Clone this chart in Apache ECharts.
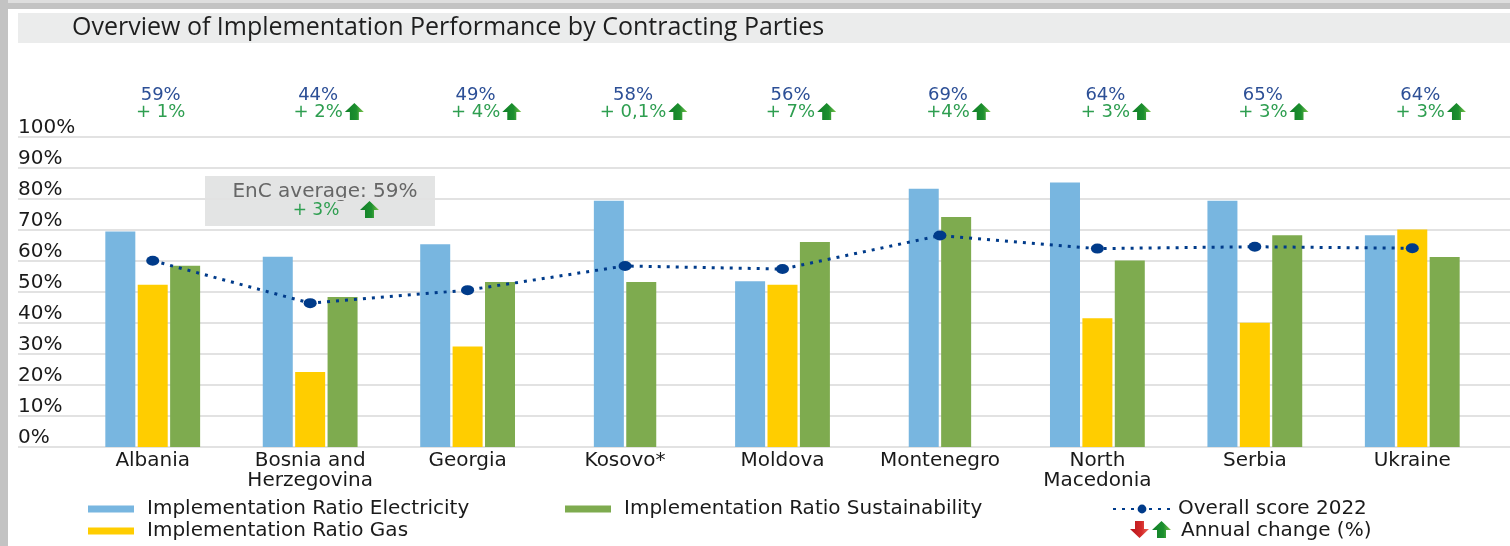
<!DOCTYPE html>
<html>
<head>
<meta charset="utf-8">
<script src="https://cdn.jsdelivr.net/npm/echarts@6/dist/echarts.min.js"></script>
<style>
  html, body { margin: 0; padding: 0; background: #fff; }
  #chart { width: 1510px; height: 546px; }
</style>
</head>
<body>
<div id="chart"></div>
<script>
// data
const categories = ['Albania', 'Bosnia and\nHerzegovina', 'Georgia', 'Kosovo*', 'Moldova', 'Montenegro', 'North\nMacedonia', 'Serbia', 'Ukraine'];
const electricity = [69.5, 61.4, 65.4, 79.4, 53.5, 83.3, 85.3, 79.4, 68.3];
const gas = [52.3, 24.2, 32.4, null, 52.3, null, 41.5, 40.1, 70.2];
const sustainability = [58.5, 48.4, 53.2, 53.2, 66.1, 74.2, 60.2, 68.3, 61.3];
const overall = [60.1, 46.4, 50.6, 58.4, 57.4, 68.2, 64.0, 64.6, 64.1];
const scoreLabels = ['59%', '44%', '49%', '58%', '56%', '69%', '64%', '65%', '64%'];
const changeLabels = ['+ 1%', '+ 2%', '+ 4%', '+ 0,1%', '+ 7%', '+4%', '+ 3%', '+ 3%', '+ 3%'];
const changeTrend = ['', 'up', 'up', 'up', 'up', 'up', 'up', 'up', 'up'];
const yTicks = [0, 10, 20, 30, 40, 50, 60, 70, 80, 90, 100];
const encAverage = 'EnC average: 59%';
const encChange = '+ 3%';

const FONT = 'DejaVu Sans';
const BLUE = '#78b6e0', YELLOW = '#ffcd00', GREEN = '#7eab4f', NAVY = '#003b8a';

// categories without a gas bar get their two bars centred on a second axis
const noGas = gas.map(v => v == null);
const elec3 = electricity.map((v, i) => noGas[i] ? null : v);
const sust3 = sustainability.map((v, i) => noGas[i] ? null : v);
const elec2 = electricity.map((v, i) => noGas[i] ? v : null);
const sust2 = sustainability.map((v, i) => noGas[i] ? v : null);

const measureCtx = document.createElement('canvas').getContext('2d');
function textWidth(s, size) {
    measureCtx.font = size + 'px "' + FONT + '"';
    return measureCtx.measureText(s).width;
}

function arrowGradient(up) {
    return new echarts.graphic.LinearGradient(0, 0, 1, 0, up ? [
        { offset: 0, color: '#0f7d27' },
        { offset: 0.6, color: '#1d902f' },
        { offset: 1, color: '#7cc44b' }
    ] : [
        { offset: 0, color: '#b5141b' },
        { offset: 0.6, color: '#d42a2a' },
        { offset: 1, color: '#ef6a5c' }
    ]);
}
// up arrow, (x, y) = bottom-left corner
function upArrow(x, y) {
    return {
        type: 'polygon',
        shape: { points: [[x + 5, y], [x + 14, y], [x + 14, y - 8], [x + 19, y - 8], [x + 9.5, y - 17], [x, y - 8], [x + 5, y - 8]] },
        style: { fill: arrowGradient(true) }
    };
}
// down arrow, (x, y) = top-left corner
function downArrow(x, y) {
    return {
        type: 'polygon',
        shape: { points: [[x + 5, y], [x + 14, y], [x + 14, y + 8], [x + 19, y + 8], [x + 9.5, y + 17], [x, y + 8], [x + 5, y + 8]] },
        style: { fill: arrowGradient(false) }
    };
}

const myChart = echarts.init(document.getElementById('chart'));

const legendText = { fontFamily: FONT, fontSize: 20, color: '#1a1a1a', padding: [0, 0, 0, 8] };
const barLegend = { icon: 'rect', itemWidth: 46, itemHeight: 7, padding: 0, textStyle: legendText };

const option = {
    animation: false,
    backgroundColor: '#fff',
    grid: [
        { left: 18, right: 0, top: 137, bottom: 99 },   // gridlines + y labels
        { left: 74, right: 19, top: 137, bottom: 99 }   // bars
    ],
    xAxis: [
        { type: 'value', gridIndex: 0, show: false },
        {
            type: 'category', gridIndex: 1, data: categories,
            axisLine: { show: false }, axisTick: { show: false },
            axisLabel: { interval: 0, fontFamily: FONT, fontSize: 20, color: '#1a1a1a', margin: 4, lineHeight: 20 }
        },
        { type: 'category', gridIndex: 1, data: categories, show: false }
    ],
    yAxis: [
        {
            type: 'value', gridIndex: 0, min: 0, max: 100, interval: 10,
            axisLine: { show: false }, axisTick: { show: false },
            axisLabel: {
                inside: true, margin: 0, verticalAlign: 'bottom', lineHeight: 18,
                fontFamily: FONT, fontSize: 20, color: '#1a1a1a',
                formatter: v => yTicks.includes(v) ? v + '%' : ''
            },
            splitLine: { lineStyle: { color: '#e2e2e2', width: 2 } }
        },
        { type: 'value', gridIndex: 1, min: 0, max: 100, show: false }
    ],
    legend: [
        Object.assign({ data: ['Implementation Ratio Electricity'], left: 88, top: 499 }, barLegend),
        Object.assign({ data: ['Implementation Ratio Gas'], left: 88, top: 521 }, barLegend),
        Object.assign({ data: ['Implementation Ratio Sustainability'], left: 565, top: 499 }, barLegend),
        {
            data: ['Overall score 2022'], left: 1112, top: 499, padding: 0, itemWidth: 58, itemHeight: 11,
            textStyle: Object.assign({}, legendText, { padding: [0, 0, 0, 2] })
        }
    ],
    graphic: [
        { type: 'rect', left: 0, top: 0, shape: { width: 1510, height: 9 }, style: { fill: '#c3c3c3' } },
        { type: 'rect', left: 0, top: 0, shape: { width: 1510, height: 3 }, style: { fill: '#dedede' } },
        { type: 'rect', left: 0, top: 0, shape: { width: 8, height: 546 }, style: { fill: '#c3c3c3' } },
        { type: 'rect', left: 18, top: 13, shape: { width: 1492, height: 30 }, style: { fill: '#ebecec' } },
        {
            type: 'text',
            style: { x: 72, y: 28, text: 'Overview of Implementation Performance by Contracting Parties', fontFamily: 'Open Sans', fontSize: 25, fill: '#1e1e1e', verticalAlign: 'middle' }
        },
        // EnC average box
        {
            type: 'group', left: 205, top: 176,
            children: [
                { type: 'rect', shape: { x: 0, y: 0, width: 230, height: 50 }, style: { fill: '#e3e4e4' } },
                { type: 'text', style: { x: 120, y: 16, text: encAverage, fontFamily: FONT, fontSize: 20, fill: '#666', align: 'center', verticalAlign: 'middle' } },
                { type: 'text', style: { x: 111, y: 35, text: encChange, fontFamily: FONT, fontSize: 17, fill: '#2e9e50', align: 'center', verticalAlign: 'middle' } },
                upArrow(155, 42)
            ]
        },
        // annual change key
        downArrow(1130, 521),
        upArrow(1152, 538),
        { type: 'text', style: { x: 1181, y: 531, text: 'Annual change (%)', fontFamily: FONT, fontSize: 20, fill: '#1a1a1a', verticalAlign: 'middle' } }
    ],
    series: [
        { name: 'Implementation Ratio Electricity', type: 'bar', xAxisIndex: 1, yAxisIndex: 1, data: elec3, barWidth: 30, barGap: '8%', itemStyle: { color: BLUE } },
        { name: 'Implementation Ratio Gas', type: 'bar', xAxisIndex: 1, yAxisIndex: 1, data: gas, barWidth: 30, barGap: '8%', itemStyle: { color: YELLOW } },
        { name: 'Implementation Ratio Sustainability', type: 'bar', xAxisIndex: 1, yAxisIndex: 1, data: sust3, barWidth: 30, barGap: '8%', itemStyle: { color: GREEN } },
        { name: 'Implementation Ratio Electricity', type: 'bar', xAxisIndex: 2, yAxisIndex: 1, data: elec2, barWidth: 30, barGap: '8%', itemStyle: { color: BLUE } },
        { name: 'Implementation Ratio Sustainability', type: 'bar', xAxisIndex: 2, yAxisIndex: 1, data: sust2, barWidth: 30, barGap: '8%', itemStyle: { color: GREEN } },
        {
            name: 'Overall score 2022', type: 'line', xAxisIndex: 1, yAxisIndex: 1, data: overall, z: 5,
            symbol: 'circle', symbolSize: [13, 10],
            itemStyle: { color: NAVY },
            lineStyle: { color: NAVY, width: 3, type: [3, 6] }
        },
        {
            type: 'custom', xAxisIndex: 1, yAxisIndex: 1, silent: true, clip: false,
            data: categories.map((c, i) => [i]),
            renderItem: (params, api) => {
                const i = api.value(0);
                const p = api.coord([i, 100]);
                const cx = p[0] + 8;
                const children = [
                    { type: 'text', style: { x: cx, y: p[1] - 42, text: scoreLabels[i], fontFamily: FONT, fontSize: 18, fill: '#2c4f96', align: 'center', verticalAlign: 'middle' } },
                    { type: 'text', style: { x: cx, y: p[1] - 25, text: changeLabels[i], fontFamily: FONT, fontSize: 18, fill: '#2e9e50', align: 'center', verticalAlign: 'middle' } }
                ];
                if (changeTrend[i] === 'up') {
                    children.push(upArrow(cx + textWidth(changeLabels[i], 18) / 2 + 2, p[1] - 17));
                }
                return { type: 'group', children };
            }
        }
    ]
};

option && myChart.setOption(option);
</script>
</body>
</html>
